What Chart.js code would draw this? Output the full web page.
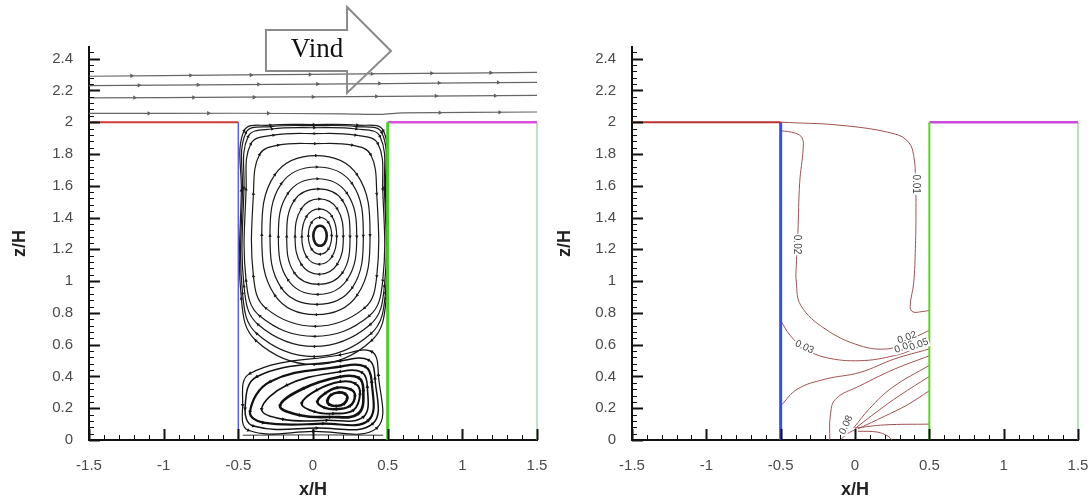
<!DOCTYPE html>
<html>
<head>
<meta charset="utf-8">
<script src="https://cdn.jsdelivr.net/npm/chart.js@4.4.0/dist/chart.umd.min.js"></script>
<style>
  body { margin: 0; background: #fff; overflow: hidden; }
  .panel { position: absolute; top: 0; }
</style>
</head>
<body>
<canvas id="flowChart" class="panel" width="560" height="501" style="left:0"></canvas>
<canvas id="conChart" class="panel" width="546" height="501" style="left:545px"></canvas>
<script>
// axis ticks
const xTicks = [-1.5, -1, -0.5, 0, 0.5, 1, 1.5];
const zTicks = [0, 0.2, 0.4, 0.6, 0.8, 1, 1.2, 1.4, 1.6, 1.8, 2, 2.2, 2.4];

// building outlines
const roofLeft = [[-1.5, 2], [-0.5, 2]];
const wallLeft = [[-0.5, 0], [-0.5, 2]];
const wallRight = [[0.5, 0], [0.5, 2]];
const roofRight = [[0.5, 2], [1.5, 2]];
const wallFar = [[1.5, 0], [1.5, 2]];

// streamlines above the roofs
const flowAbove = [
  [[-1.5, 2.289], [-0.5, 2.297], [0.5, 2.305], [1.5, 2.313]],
  [[-1.5, 2.230], [-0.5, 2.236], [0.5, 2.243], [1.5, 2.251]],
  [[-1.5, 2.153], [-0.5, 2.157], [0.5, 2.162], [1.5, 2.168]],
  [[-1.5, 2.055], [-0.5, 2.056], [0.2, 2.052], [0.45, 2.049], [0.6, 2.058], [1.5, 2.064]],
];
const flowArrows = [
  [-1.215, 2.292], [-0.82, 2.294], [-0.415, 2.297], [-0.02, 2.300], [0.395, 2.304], [0.794, 2.308], [1.19, 2.311],
  [-1.165, 2.232], [-0.77, 2.235], [-0.365, 2.238], [0.03, 2.240], [0.445, 2.244], [0.844, 2.247], [1.24, 2.250],
  [-1.195, 2.154], [-0.8, 2.155], [-0.395, 2.157], [0.0, 2.159], [0.425, 2.162], [0.824, 2.165], [1.22, 2.167],
  [-1.1, 2.055], [-0.7, 2.056], [-0.3, 2.056], [0.85, 2.060], [1.25, 2.062],
];

// primary vortex in the canyon (closed streamlines, inner to outer, clockwise)
const upperVortex = [
  [[0.047, 1.348], [0.079, 1.330], [0.092, 1.285], [0.079, 1.240], [0.047, 1.222], [0.015, 1.240], [0.002, 1.285], [0.015, 1.330]],
  [[0.047, 1.400], [0.103, 1.369], [0.125, 1.285], [0.103, 1.201], [0.047, 1.169], [-0.009, 1.201], [-0.031, 1.285], [-0.009, 1.369]],
  [[0.042, 1.454], [0.127, 1.407], [0.159, 1.280], [0.127, 1.153], [0.042, 1.106], [-0.043, 1.153], [-0.075, 1.280], [-0.043, 1.407]],
  [[0.042, 1.517], [0.162, 1.455], [0.203, 1.280], [0.162, 1.105], [0.042, 1.043], [-0.078, 1.105], [-0.120, 1.280], [-0.078, 1.455]],
  [[0.036, 1.580], [0.197, 1.508], [0.248, 1.280], [0.197, 1.052], [0.036, 0.980], [-0.125, 1.052], [-0.176, 1.280], [-0.125, 1.508]],
  [[0.030, 1.644], [0.227, 1.553], [0.293, 1.280], [0.227, 1.007], [0.030, 0.916], [-0.167, 1.007], [-0.232, 1.280], [-0.167, 1.553]],
  [[0.025, 1.718], [0.262, 1.613], [0.337, 1.285], [0.262, 0.957], [0.025, 0.853], [-0.212, 0.957], [-0.288, 1.285], [-0.212, 1.613]],
  [[0.020, 1.790], [0.295, 1.670], [0.382, 1.290], [0.295, 0.910], [0.020, 0.789], [-0.255, 0.910], [-0.343, 1.290], [-0.255, 1.670]],
  [[0.014, 1.865], [0.262, 1.855], [0.386, 1.796], [0.427, 1.549], [0.427, 1.031], [0.344, 0.830], [0.014, 0.715], [-0.316, 0.830], [-0.399, 1.031], [-0.399, 1.549], [-0.358, 1.796], [-0.234, 1.855]],
  [[0.010, 1.928], [0.284, 1.918], [0.435, 1.864], [0.467, 1.577], [0.467, 1.003], [0.376, 0.780], [0.010, 0.652], [-0.356, 0.780], [-0.448, 1.003], [-0.448, 1.577], [-0.416, 1.864], [-0.265, 1.918]],
  [[0.008, 1.965], [0.290, 1.957], [0.449, 1.910], [0.478, 1.587], [0.478, 0.967], [0.384, 0.727], [0.008, 0.589], [-0.368, 0.727], [-0.462, 0.967], [-0.462, 1.587], [-0.434, 1.910], [-0.274, 1.957]],
  [[0.006, 1.978], [0.293, 1.972], [0.461, 1.934], [0.485, 1.578], [0.485, 0.924], [0.389, 0.670], [0.006, 0.525], [-0.377, 0.670], [-0.472, 0.924], [-0.472, 1.578], [-0.449, 1.934], [-0.281, 1.972]],
  [[0.005, 1.985], [0.296, 1.981], [0.471, 1.947], [0.490, 1.570], [0.490, 0.890], [0.393, 0.626], [0.005, 0.475], [-0.383, 0.626], [-0.480, 0.890], [-0.480, 1.570], [-0.461, 1.947], [-0.286, 1.981]],
];

// secondary vortex near the canyon floor (turns the other way)
const lowerVortex = [
  [[0.170, 0.299], [0.212, 0.292], [0.230, 0.268], [0.208, 0.228], [0.160, 0.214], [0.112, 0.222], [0.096, 0.245], [0.118, 0.282]],
  [[0.159, 0.329], [0.248, 0.320], [0.281, 0.282], [0.248, 0.215], [0.159, 0.194], [0.080, 0.202], [0.029, 0.240], [0.080, 0.293]],
  [[0.181, 0.367], [0.281, 0.356], [0.315, 0.293], [0.270, 0.187], [0.136, 0.166], [0.013, 0.177], [-0.076, 0.229], [0.025, 0.314]],
  [[0.181, 0.398], [0.304, 0.392], [0.337, 0.314], [0.304, 0.166], [0.114, 0.145], [-0.087, 0.156], [-0.221, 0.215], [-0.065, 0.324]],
  [[0.181, 0.430], [0.326, 0.426], [0.364, 0.335], [0.337, 0.145], [0.092, 0.124], [-0.199, 0.130], [-0.344, 0.194], [-0.176, 0.345]],
  [[0.181, 0.462], [0.348, 0.462], [0.393, 0.367], [0.371, 0.124], [0.069, 0.103], [-0.333, 0.109], [-0.422, 0.177], [-0.288, 0.367]],
  [[0.181, 0.497], [0.371, 0.504], [0.415, 0.388], [0.400, 0.103], [0.025, 0.075], [-0.400, 0.088], [-0.455, 0.198], [-0.377, 0.398]],
  [[0.181, 0.535], [0.393, 0.556], [0.438, 0.409], [0.427, 0.075], [0.002, 0.054], [-0.433, 0.061], [-0.471, 0.219], [-0.422, 0.419]],
];
const floorFlow = [[-0.47, 0.03], [0, 0.032], [0.47, 0.03]];
const lowerWeights = [2.6, 2.4, 2.0, 2.6, 1.6, 2.2, 1.5, 1.2];

// concentration contours (right panel)
const contours = [
  [[-0.5, 2.0], [-0.081, 1.979], [0.267, 1.926], [0.36, 1.874], [0.395, 1.789], [0.407, 1.642], [0.41, 1.40], [0.406, 1.204], [0.395, 0.99], [0.371, 0.84], [0.39, 0.806], [0.45, 0.808], [0.5, 0.815]],
  [[-0.5, 1.947], [-0.40, 1.93], [-0.355, 1.90], [-0.349, 1.832], [-0.372, 1.621], [-0.384, 1.305], [-0.395, 1.10], [-0.395, 0.994], [-0.364, 0.846], [-0.201, 0.699], [0.033, 0.594], [0.22, 0.573], [0.32, 0.61], [0.5, 0.69]],
  [[-0.5, 0.752], [-0.435, 0.657], [-0.341, 0.578], [-0.201, 0.52], [0.033, 0.499], [0.266, 0.531], [0.40, 0.575], [0.5, 0.63]],
  [[-0.5, 0.215], [-0.388, 0.32], [-0.2, 0.383], [0.033, 0.425], [0.266, 0.51], [0.5, 0.573]],
  [[-0.17, 0.0], [-0.166, 0.152], [-0.131, 0.257], [0.033, 0.341], [0.266, 0.446], [0.5, 0.53]],
  [[-0.01, 0.075], [0.1, 0.2], [0.25, 0.33], [0.5, 0.47]],
  [[0.0, 0.072], [0.15, 0.18], [0.3, 0.28], [0.5, 0.40]],
  [[0.02, 0.07], [0.2, 0.15], [0.35, 0.22], [0.5, 0.31]],
  [[0.0, 0.075], [0.2, 0.095], [0.5, 0.1]],
  [[0.02, 0.055], [0.15, 0.05], [0.22, 0.025], [0.25, 0.0]],
  [[-0.1, 0.0], [-0.05, 0.04], [0.0, 0.065]],
];
const contourLabels = [
  ['0.01', 0.408, 1.61], ['0.02', -0.392, 1.23], ['0.03', -0.34, 0.585], ['0.02', 0.35, 0.645],
  ['0.06', 0.33, 0.585], ['0.05', 0.43, 0.60], ['0.08', -0.06, 0.095],
];
const labelAngles = [90, 90, 25, -20, -20, -20, -65];

// wind arrow, in axis units
const windArrow = [[-0.315, 2.580], [0.228, 2.580], [0.228, 2.725], [0.522, 2.448], [0.228, 2.184], [0.228, 2.322], [-0.315, 2.322]];

const pts = arr => arr.map(([x, y]) => ({ x, y }));
const fmt = v => String(parseFloat(Number(v).toFixed(2)));

function seg(data, color, width, extra) {
  return Object.assign({
    data: pts(data), showLine: true, borderColor: color, borderWidth: width,
    pointRadius: 0, tension: 0, fill: false,
  }, extra || {});
}

// direction of travel at a point, as a triangle rotation in degrees
function heading(c, turn) {
  const d = c.dataset.data, i = c.dataIndex;
  const a = d[i - 1], b = d[i + 1];
  if (!a || !b) return 0;
  const { x, y } = c.chart.scales;
  const dx = x.getPixelForValue(b.x) - x.getPixelForValue(a.x);
  const dy = y.getPixelForValue(b.y) - y.getPixelForValue(a.y);
  return Math.atan2(dx, -dy) * 180 / Math.PI + turn;
}

// closed spline: wrap one point on each side, hide the two wrap segments
function loop(ring, color, width, arrow, turn) {
  const n = ring.length;
  const data = [ring[n - 1]].concat(ring, [ring[0], ring[1]]);
  const last = data.length - 1;
  return seg(data, color, width, {
    tension: 0.4,
    pointStyle: "triangle",
    pointBackgroundColor: color,
    pointBorderWidth: 0,
    pointRadius: (c) => (c.dataIndex >= 1 && c.dataIndex <= n ? arrow : 0),
    rotation: (c) => heading(c, turn),
    segment: {
      borderColor: (c) => (c.p0DataIndex === 0 || c.p1DataIndex === last ? "rgba(0,0,0,0)" : color),
    },
  });
}

function buildingSets(c) {
  return [
    seg(roofLeft, c.red, 2, { clip: false }),
    seg(wallLeft, c.blue, c.blueW, { clip: false }),
    seg(wallRight, c.green, c.greenW, { clip: false }),
    seg(roofRight, c.magenta, 2.5, { clip: false }),
    seg(wallFar, c.pale, 1.5, { clip: false }),
  ];
}

// tick marks pointing into the plot, with minor ticks
const innerTicks = {
  id: "innerTicks",
  afterDraw(chart) {
    const { ctx, scales: { x, y } } = chart;
    ctx.save();
    ctx.strokeStyle = "#111";
    for (let i = 0; i * 0.04 <= y.max + 1e-6; i++) {
      const py = Math.round(y.getPixelForValue(i * 0.04)) + 0.5;
      const major = i % 5 === 0;
      ctx.lineWidth = major ? 2 : 1;
      ctx.beginPath();
      ctx.moveTo(x.left, py);
      ctx.lineTo(x.left + (major ? 11 : 5), py);
      ctx.stroke();
    }
    for (let i = 0; i <= 30; i++) {
      const px = Math.round(x.getPixelForValue(-1.5 + i * 0.1)) + 0.5;
      const major = i % 5 === 0;
      ctx.lineWidth = major ? 2 : 1;
      ctx.beginPath();
      ctx.moveTo(px, y.bottom);
      ctx.lineTo(px, y.bottom - (major ? 11 : 5));
      ctx.stroke();
    }
    ctx.restore();
  },
};

const windSign = {
  id: "windSign",
  afterDatasetsDraw(chart) {
    if (chart.canvas.id !== "flowChart") return;
    const { ctx, scales: { x, y } } = chart;
    ctx.save();
    ctx.beginPath();
    windArrow.forEach(([vx, vy], i) => {
      const px = x.getPixelForValue(vx), py = y.getPixelForValue(vy);
      if (i === 0) ctx.moveTo(px, py); else ctx.lineTo(px, py);
    });
    ctx.closePath();
    ctx.strokeStyle = "#8a8a8a";
    ctx.lineWidth = 2;
    ctx.stroke();
    ctx.fillStyle = "#111";
    ctx.font = '27px "Liberation Serif"';
    ctx.textAlign = "center";
    ctx.textBaseline = "middle";
    ctx.fillText("Vind", x.getPixelForValue(0.027), y.getPixelForValue(2.452));
    ctx.restore();
  },
};

const contourText = {
  id: "contourText",
  afterDatasetsDraw(chart) {
    if (chart.canvas.id !== "conChart") return;
    const { ctx, scales: { x, y } } = chart;
    ctx.save();
    ctx.font = '10px "Liberation Sans"';
    ctx.textAlign = "center";
    ctx.textBaseline = "middle";
    contourLabels.forEach(([t, vx, vy], i) => {
      ctx.save();
      ctx.translate(x.getPixelForValue(vx), y.getPixelForValue(vy));
      ctx.rotate(labelAngles[i] * Math.PI / 180);
      const w = ctx.measureText(t).width;
      ctx.fillStyle = "#fff";
      ctx.fillRect(-w / 2 - 1, -5, w + 2, 10);
      ctx.fillStyle = "#444";
      ctx.fillText(t, 0, 0);
      ctx.restore();
    });
    ctx.restore();
  },
};

function noPad(s) {
  s.paddingLeft = 0; s.paddingRight = 0; s.paddingTop = 0; s.paddingBottom = 0;
}

function axes(yWidth) {
  const tickFont = { family: "Liberation Sans", size: 15 };
  const titleFont = { family: "Liberation Sans", size: 18, weight: "bold" };
  return {
    x: {
      type: "linear", min: -1.5, max: 1.5,
      afterBuildTicks: (s) => { s.ticks = xTicks.map((v) => ({ value: v })); },
      afterFit: (s) => { s.height = 61; noPad(s); },
      grid: { drawOnChartArea: false, drawTicks: false },
      border: { color: "#111", width: 2 },
      ticks: { padding: 17, color: "#4a4a4a", font: tickFont, callback: fmt, maxRotation: 0, autoSkip: false },
      title: { display: true, text: "x/H", color: "#222", font: titleFont, padding: { top: 0, bottom: 0 } },
    },
    y: {
      type: "linear", min: 0, max: 2.473,
      afterBuildTicks: (s) => { s.ticks = zTicks.map((v) => ({ value: v })); },
      afterFit: (s) => { s.width = yWidth; noPad(s); },
      grid: { drawOnChartArea: false, drawTicks: false },
      border: { color: "#111", width: 2 },
      ticks: { padding: 16, color: "#4a4a4a", font: tickFont, callback: fmt, autoSkip: false },
      title: { display: true, text: "z/H", color: "#222", font: titleFont, padding: { top: 9, bottom: 0 } },
    },
  };
}

function makePanel(id, datasets, yWidth, padRight) {
  return new Chart(document.getElementById(id), {
    type: "scatter",
    data: { datasets },
    options: {
      responsive: false,
      animation: false,
      devicePixelRatio: 1,
      events: [],
      layout: { padding: { left: 0, top: 47, right: padRight, bottom: 0 } },
      scales: axes(yWidth),
      plugins: { legend: { display: false }, tooltip: { enabled: false } },
    },
    plugins: [innerTicks, windSign, contourText],
  });
}

// left panel: streamlines
const leftSets = buildingSets({ red: "#cc3a3a", blue: "#5560dd", blueW: 1.5, green: "#4ccc2a", greenW: 3, magenta: "#dd4ee0", pale: "#a8dca8" });
upperVortex.forEach((ring, i) => leftSets.push(loop(ring, "#1a1a1a", i === 0 ? 2.6 : 1.2, i === 0 ? 0 : 2, 0)));
lowerVortex.forEach((ring, i) => leftSets.push(loop(ring, "#111", lowerWeights[i], 2.2, 180)));
leftSets.push(seg(floorFlow, "#333", 1, { tension: 0.3 }));
flowAbove.forEach((l) => leftSets.push(seg(l, "#666", 1.2, { tension: 0.3 })));
leftSets.push({
  data: pts(flowArrows), showLine: false, pointStyle: "triangle", rotation: 90,
  pointRadius: 2.5, backgroundColor: "#555", borderColor: "#555", borderWidth: 0,
});
makePanel("flowChart", leftSets, 89, 23);

// right panel: concentration contours
const rightSets = buildingSets({ red: "#b83232", blue: "#3350ee", blueW: 3, green: "#66cc33", greenW: 2, magenta: "#cc48dd", pale: "#9cdc9c" });
contours.forEach((c) => rightSets.push(seg(c, "#a05252", 1, { tension: 0.4 })));
makePanel("conChart", rightSets, 87, 13);
</script>
</body>
</html>
